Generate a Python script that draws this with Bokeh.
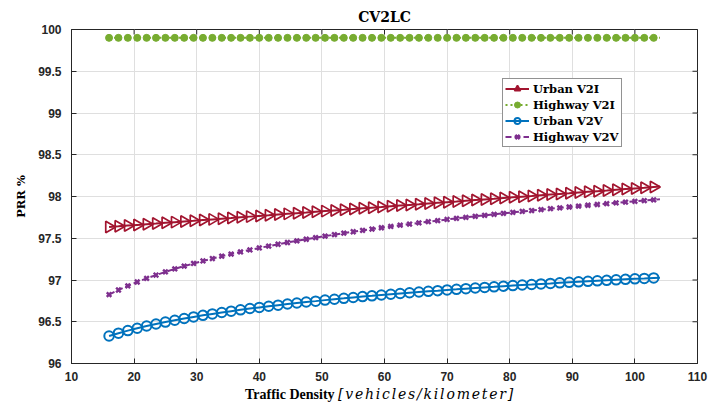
import math
from bokeh.plotting import figure
from bokeh.layouts import column
from bokeh.models import Range1d, FixedTicker, Legend, LegendItem, Div
from bokeh.embed import file_html
from bokeh.resources import INLINE

# ---------------- data ----------------
density = [16, 17.5, 19, 20.5, 22, 23.5, 25, 26.5, 28, 29.5, 31, 32.5, 34, 35.5, 37,
           38.5, 40, 41.5, 43, 44.5, 46, 47.5, 49, 50.5, 52, 53.5, 55, 56.5, 58, 59.5,
           61, 62.5, 64, 65.5, 67, 68.5, 70, 71.5, 73, 74.5, 76, 77.5, 79, 80.5, 82,
           83.5, 85, 86.5, 88, 89.5, 91, 92.5, 94, 95.5, 97, 98.5, 100, 101.5, 103, 104]

urban_v2i = [97.635, 97.643, 97.652, 97.660, 97.668, 97.676, 97.685, 97.693, 97.701, 97.709,
             97.718, 97.726, 97.734, 97.742, 97.751, 97.759, 97.767, 97.775, 97.784, 97.792,
             97.800, 97.808, 97.817, 97.825, 97.833, 97.841, 97.850, 97.858, 97.866, 97.874,
             97.883, 97.891, 97.899, 97.907, 97.916, 97.924, 97.932, 97.940, 97.949, 97.957,
             97.965, 97.973, 97.982, 97.990, 97.998, 98.006, 98.015, 98.023, 98.031, 98.039,
             98.048, 98.056, 98.064, 98.072, 98.081, 98.089, 98.097, 98.105, 98.114, 98.119]

highway_v2i = [99.9] * 60

urban_v2v = [96.330, 96.363, 96.394, 96.422, 96.449, 96.473, 96.496, 96.518, 96.539, 96.558,
             96.577, 96.594, 96.611, 96.627, 96.643, 96.658, 96.672, 96.686, 96.699, 96.712,
             96.724, 96.736, 96.747, 96.759, 96.770, 96.780, 96.791, 96.801, 96.810, 96.820,
             96.829, 96.838, 96.847, 96.856, 96.864, 96.872, 96.881, 96.888, 96.896, 96.904,
             96.911, 96.918, 96.926, 96.933, 96.940, 96.946, 96.953, 96.959, 96.966, 96.972,
             96.978, 96.984, 96.990, 96.996, 97.002, 97.008, 97.014, 97.019, 97.025, 97.028]

highway_v2v = [96.825, 96.880, 96.930, 96.976, 97.019, 97.059, 97.097, 97.133, 97.166, 97.198,
               97.228, 97.257, 97.285, 97.311, 97.336, 97.360, 97.384, 97.406, 97.428, 97.449,
               97.469, 97.488, 97.507, 97.526, 97.543, 97.561, 97.578, 97.594, 97.610, 97.626,
               97.641, 97.656, 97.670, 97.684, 97.698, 97.711, 97.725, 97.738, 97.750, 97.763,
               97.775, 97.787, 97.798, 97.810, 97.821, 97.832, 97.843, 97.854, 97.864, 97.874,
               97.885, 97.895, 97.904, 97.914, 97.924, 97.933, 97.942, 97.951, 97.960, 97.966]

series_names = ["Urban V2I", "Highway V2I", "Urban V2V", "Highway V2V"]

x_ticks = [10, 20, 30, 40, 50, 60, 70, 80, 90, 100, 110]
x_tick_labels = ["10", "20", "30", "40", "50", "60", "70", "80", "90", "100", "110"]
y_ticks = [96, 96.5, 97, 97.5, 98, 98.5, 99, 99.5, 100]
y_tick_labels = ["96", "96.5", "97", "97.5", "98", "98.5", "99", "99.5", "100"]

title_text = "CV2LC"
x_label_main = "Traffic Density"
x_label_unit = "[vehicles/kilometer]"
y_label_text = "PRR %"

# ---------------- styling ----------------
AX = "#262626"
GRID = "#dfdfdf"
SERIF = "DejaVu Serif"
C_UV2I = "#A2142F"
C_HV2I = "#77AC30"
C_UV2V = "#0072BD"
C_HV2V = "#7E2F8E"

X_MIN, X_MAX = x_ticks[0], x_ticks[-1]
Y_MIN, Y_MAX = y_ticks[0], y_ticks[-1]

p = figure(width=708, height=387, output_backend="svg", toolbar_location=None,
           x_range=Range1d(X_MIN, X_MAX), y_range=Range1d(Y_MIN, Y_MAX),
           min_border_left=71, min_border_right=11, min_border_top=29, min_border_bottom=24)
p.outline_line_color = AX
p.outline_line_width = 1
p.background_fill_color = "white"
p.border_fill_color = "white"

p.title.text = title_text
p.title.align = "center"
p.title.text_font = SERIF
p.title.text_font_style = "bold"
p.title.text_font_size = "14px"
p.title.text_color = "black"
p.title.standoff = 9

xt = FixedTicker(ticks=x_ticks)
yt = FixedTicker(ticks=y_ticks)


def style_axis(ax, ticker, labels):
    ax.ticker = ticker
    ax.axis_line_color = AX
    ax.major_tick_line_color = AX
    ax.major_tick_in = 5
    ax.major_tick_out = 0
    ax.minor_tick_in = 0
    ax.minor_tick_out = 0
    ax.major_label_overrides = {t: l for t, l in zip(ticker.ticks, labels)}
    ax.major_label_text_color = AX
    ax.major_label_text_font = "Liberation Sans"
    ax.major_label_text_font_style = "bold"
    ax.major_label_text_font_size = "12px"


style_axis(p.xaxis[0], xt, x_tick_labels)
p.xaxis.major_label_standoff = 8
style_axis(p.yaxis[0], yt, y_tick_labels)
p.yaxis.major_label_standoff = 10
p.yaxis.axis_label = y_label_text
p.yaxis.axis_label_text_font = SERIF
p.yaxis.axis_label_text_font_style = "bold"
p.yaxis.axis_label_text_font_size = "11.5px"
p.yaxis.axis_label_text_color = "black"
p.yaxis.axis_label_standoff = 7

p.xgrid.ticker = xt
p.ygrid.ticker = yt
p.xgrid.grid_line_color = GRID
p.ygrid.grid_line_color = GRID

# inward tick marks on the top and right edges of the box (half clipped by the frame)
p.scatter(x_ticks, [Y_MAX] * len(x_ticks), marker="dash", angle=math.pi / 2, size=10,
          line_color=AX, line_width=1)
p.scatter([X_MAX] * len(y_ticks), y_ticks, marker="dash", size=10,
          line_color=AX, line_width=1)

mx = density[:-1]

# Urban V2I
l1 = p.line(density, urban_v2i, line_color=C_UV2I, line_width=2)
s1 = p.scatter(mx, urban_v2i[:-1], marker="triangle", angle=-math.pi / 2, size=11.5,
               line_color=C_UV2I, line_width=1.7, fill_alpha=0)
# Highway V2I
l2 = p.line(density, highway_v2i, line_color=C_HV2I, line_width=2, line_dash="2 3")
s2 = p.scatter(mx, highway_v2i[:-1], marker="circle", size=7,
               line_color=C_HV2I, fill_color=C_HV2I, line_width=1)
# Urban V2V
l3 = p.line(density, urban_v2v, line_color=C_UV2V, line_width=2)
s3 = p.scatter(mx, urban_v2v[:-1], marker="circle", size=9.5,
               line_color=C_UV2V, line_width=2, fill_alpha=0)
# Highway V2V
l4 = p.line(density, highway_v2v, line_color=C_HV2V, line_width=2, line_dash="6 3")
s4 = p.scatter(mx, highway_v2v[:-1], marker="x", size=6.5,
               line_color=C_HV2V, line_width=2.4)

legend = Legend(items=[LegendItem(label=series_names[0], renderers=[l1, s1]),
                       LegendItem(label=series_names[1], renderers=[l2, s2]),
                       LegendItem(label=series_names[2], renderers=[l3, s3]),
                       LegendItem(label=series_names[3], renderers=[l4, s4])],
                location=(431, 216), orientation="vertical",
                padding=2, spacing=1, margin=0,
                label_height=15, glyph_height=15, glyph_width=24, label_standoff=4,
                label_text_font=SERIF, label_text_font_style="bold",
                label_text_font_size="11.5px", label_text_color="black",
                border_line_color=AX, border_line_width=1,
                background_fill_color="white", background_fill_alpha=1)
p.add_layout(legend)

xlabel_html = (
    '<div style="margin-left:245px; white-space:nowrap; color:black; line-height:15px;">'
    '<span style="font-family:\'Liberation Serif\'; font-weight:bold; font-size:14px;">'
    + x_label_main + '</span> '
    '<span style="font-family:\'DejaVu Serif\'; font-style:italic; font-size:14px; '
    'letter-spacing:1.8px;">' + x_label_unit + '</span></div>'
)
xlabel = Div(text=xlabel_html, width=708, height=18, margin=0)

layout = column(p, xlabel, spacing=0)

open("out.html", "w").write(file_html(layout, INLINE))
